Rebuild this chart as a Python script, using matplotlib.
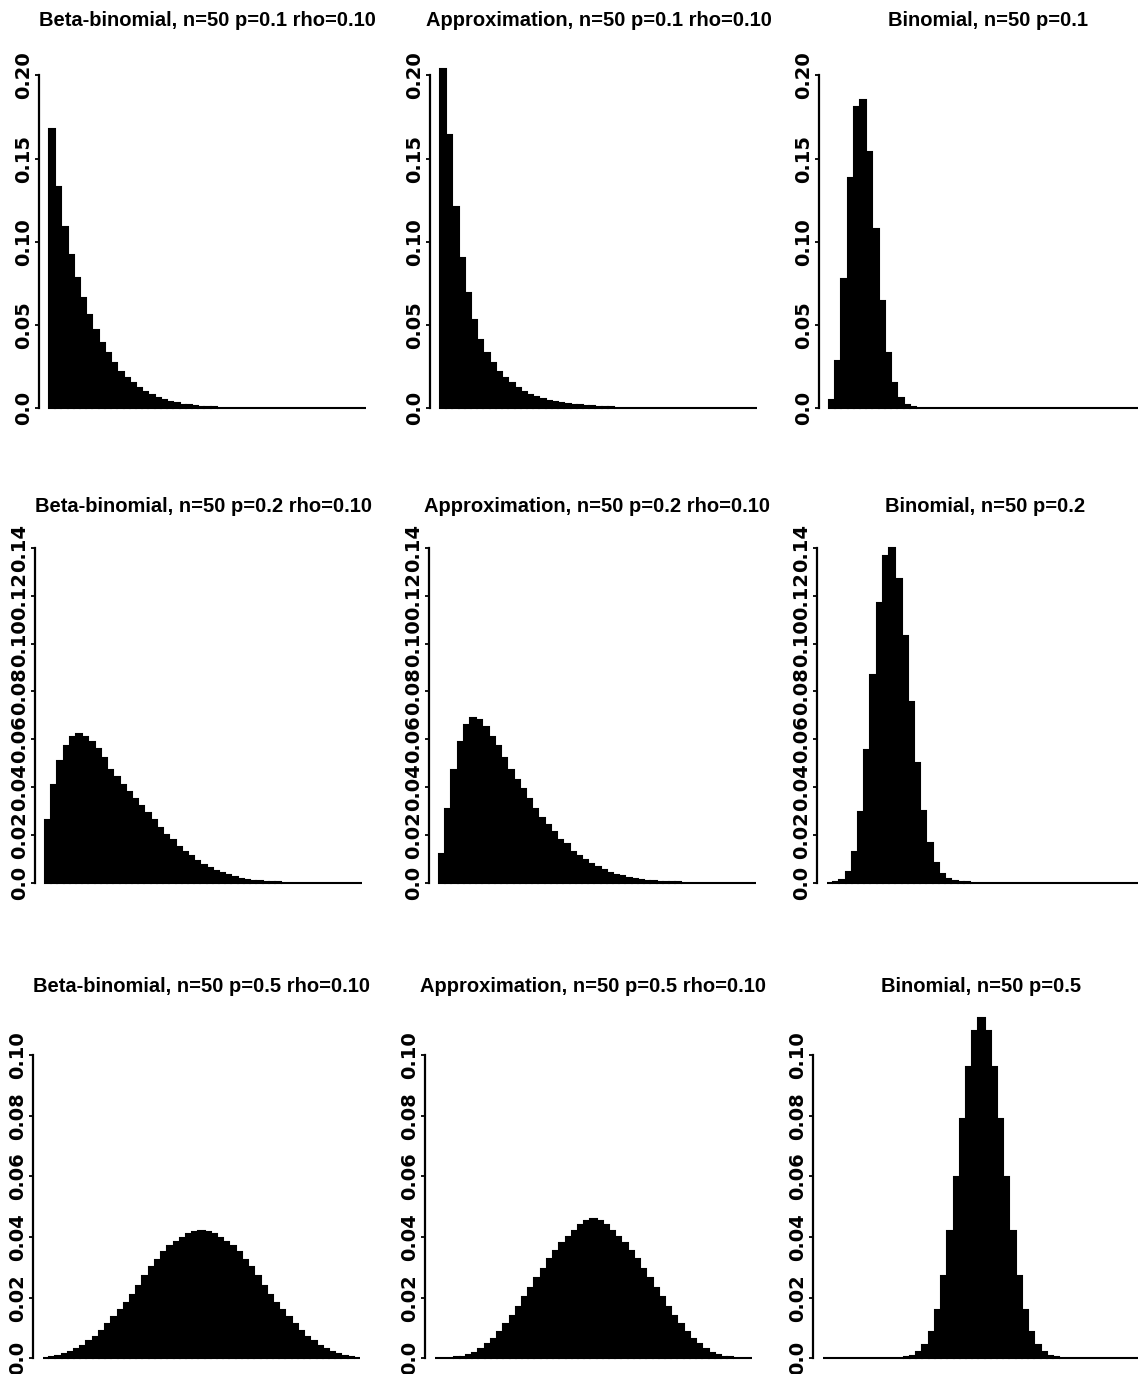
import numpy as np
import matplotlib
matplotlib.use('Agg')
import matplotlib.pyplot as plt
from matplotlib import font_manager

N_TRIALS = 50
K = np.arange(N_TRIALS + 1)

# probabilities, k = 0..50
BETA_BIN_P01 = [0.168, 0.133, 0.109, 0.092, 0.078, 0.066, 0.056, 0.047, 0.039, 0.033,
                0.027, 0.022, 0.018, 0.015, 0.012, 0.0098, 0.0078, 0.0062, 0.0049, 0.0038,
                0.003, 0.0023, 0.0018, 0.0014, 0.001, 0.0008, 0.0006, 0.0004, 0.0003, 0.0002,
                0.00015, 0.0001, 0.00007, 0.00005, 0, 0, 0, 0, 0, 0,
                0, 0, 0, 0, 0, 0, 0, 0, 0, 0, 0]
APPROX_P01 = [0.204, 0.164, 0.121, 0.090, 0.069, 0.053, 0.041, 0.033, 0.027, 0.022,
              0.018, 0.015, 0.012, 0.0098, 0.0082, 0.0068, 0.0056, 0.0047, 0.0039, 0.0032,
              0.0027, 0.0022, 0.0018, 0.0015, 0.0012, 0.001, 0.0008, 0.00065, 0.0005, 0.0004,
              0.0003, 0.00025, 0.0002, 0.00015, 0.0001, 0.00008, 0.00006, 0.00004, 0.00003, 0.00002,
              0.00001, 0, 0, 0, 0, 0, 0, 0, 0, 0, 0]
BINOM_P01 = [0.0052, 0.0286, 0.0779, 0.1386, 0.1809, 0.1849, 0.1541, 0.1076, 0.0643, 0.0333,
             0.0152, 0.0061, 0.0022, 0.0007, 0.0002, 0.00005, 0.00001, 0, 0, 0,
             0, 0, 0, 0, 0, 0, 0, 0, 0, 0,
             0, 0, 0, 0, 0, 0, 0, 0, 0, 0,
             0, 0, 0, 0, 0, 0, 0, 0, 0, 0, 0]

BETA_BIN_P02 = [0.026, 0.041, 0.051, 0.057, 0.061, 0.062, 0.061, 0.059, 0.056, 0.052,
                0.047, 0.044, 0.041, 0.038, 0.035, 0.032, 0.029, 0.026, 0.023, 0.020,
                0.018, 0.015, 0.013, 0.011, 0.009, 0.0075, 0.006, 0.005, 0.004, 0.003,
                0.0023, 0.0017, 0.0012, 0.0008, 0.0005, 0.0003, 0.0002, 0.0001, 0.00005, 0.00002,
                0, 0, 0, 0, 0, 0, 0, 0, 0, 0, 0]
APPROX_P02 = [0.012, 0.031, 0.047, 0.059, 0.066, 0.069, 0.068, 0.065, 0.061, 0.057,
              0.052, 0.047, 0.043, 0.039, 0.035, 0.031, 0.027, 0.024, 0.021, 0.018,
              0.016, 0.013, 0.011, 0.0095, 0.008, 0.0065, 0.0052, 0.0042, 0.0033, 0.0026,
              0.002, 0.0015, 0.0011, 0.0008, 0.0006, 0.0004, 0.0003, 0.0002, 0.0001, 0.00005,
              0, 0, 0, 0, 0, 0, 0, 0, 0, 0, 0]
BINOM_P02 = [0.00001, 0.0002, 0.0011, 0.0044, 0.0128, 0.0295, 0.0554, 0.0870, 0.1169, 0.1364,
             0.1398, 0.1271, 0.1033, 0.0755, 0.0499, 0.0299, 0.0164, 0.0082, 0.0037, 0.0016,
             0.0006, 0.0002, 0.00007, 0.00002, 0, 0, 0, 0, 0, 0,
             0, 0, 0, 0, 0, 0, 0, 0, 0, 0,
             0, 0, 0, 0, 0, 0, 0, 0, 0, 0, 0]

BETA_BIN_P05 = [0.0001, 0.0003, 0.0007, 0.0013, 0.0021, 0.0030, 0.0042, 0.0056, 0.0071, 0.0090,
                0.0112, 0.0137, 0.0158, 0.0183, 0.021, 0.024, 0.027, 0.030, 0.0325, 0.035,
                0.037, 0.0385, 0.0398, 0.041, 0.0417, 0.042, 0.0417, 0.041, 0.0398, 0.0385,
                0.037, 0.035, 0.0325, 0.030, 0.027, 0.024, 0.021, 0.0183, 0.0158, 0.0137,
                0.0112, 0.0090, 0.0071, 0.0056, 0.0042, 0.0030, 0.0021, 0.0013, 0.0007, 0.0003, 0.0001]
APPROX_P05 = [0, 0.00005, 0.0001, 0.0003, 0.0006, 0.0011, 0.0019, 0.0031, 0.0046, 0.0065,
              0.0087, 0.0112, 0.0140, 0.0170, 0.0201, 0.0233, 0.0265, 0.0296, 0.0326, 0.0354,
              0.0379, 0.0401, 0.0420, 0.0438, 0.0452, 0.0458, 0.0452, 0.0438, 0.0420, 0.0401,
              0.0379, 0.0354, 0.0326, 0.0296, 0.0265, 0.0233, 0.0201, 0.0170, 0.0140, 0.0112,
              0.0087, 0.0065, 0.0046, 0.0031, 0.0019, 0.0011, 0.0006, 0.0003, 0.0001, 0.00005, 0]
BINOM_P05 = [0, 0, 0, 0, 0, 0, 0, 0, 0, 0,
             0.00001, 0.00004, 0.0001, 0.0003, 0.0008, 0.0020, 0.0044, 0.0087, 0.0160, 0.0270,
             0.0419, 0.0598, 0.0788, 0.0960, 0.1080, 0.1123, 0.1080, 0.0960, 0.0788, 0.0598,
             0.0419, 0.0270, 0.0160, 0.0087, 0.0044, 0.0020, 0.0008, 0.0003, 0.0001, 0.00004,
             0.00001, 0, 0, 0, 0, 0, 0, 0, 0, 0, 0]

DATA = [[BETA_BIN_P01, APPROX_P01, BINOM_P01],
        [BETA_BIN_P02, APPROX_P02, BINOM_P02],
        [BETA_BIN_P05, APPROX_P05, BINOM_P05]]

TITLES = [['Beta-binomial, n=50 p=0.1 rho=0.10', 'Approximation, n=50 p=0.1 rho=0.10', 'Binomial, n=50 p=0.1'],
          ['Beta-binomial, n=50 p=0.2 rho=0.10', 'Approximation, n=50 p=0.2 rho=0.10', 'Binomial, n=50 p=0.2'],
          ['Beta-binomial, n=50 p=0.5 rho=0.10', 'Approximation, n=50 p=0.5 rho=0.10', 'Binomial, n=50 p=0.5']]

Y_TICKS = [[0, 0.05, 0.10, 0.15, 0.20],
           [0, 0.02, 0.04, 0.06, 0.08, 0.10, 0.12, 0.14],
           [0, 0.02, 0.04, 0.06, 0.08, 0.10]]
Y_TICK_LABELS = [['0.0', '0.05', '0.10', '0.15', '0.20'],
                 ['0.0', '0.02', '0.04', '0.06', '0.08', '0.10', '0.12', '0.14'],
                 ['0.0', '0.02', '0.04', '0.06', '0.08', '0.10']]

FONT_NAMES = {f.name for f in font_manager.fontManager.ttflist}
if 'Liberation Sans Narrow' in FONT_NAMES:
    TITLE_FONT, TITLE_SIZE = 'Liberation Sans Narrow', 15.5
elif 'Liberation Sans' in FONT_NAMES:
    TITLE_FONT, TITLE_SIZE = 'Liberation Sans', 14.5
else:
    TITLE_FONT, TITLE_SIZE = 'DejaVu Sans', 12

W, H = 1138, 1374
fig = plt.figure(figsize=(W / 100, H / 100), dpi=100)

# layout in pixels (from top-left of the picture)
COL_LEFT = [[39, 430, 819], [35, 429, 817], [33, 425, 813]]
ROW_TOP = [55, 535, 1004]
ROW_BOTTOM = [422, 896, 1372]
TITLE_Y = [21, 506, 987]
PANEL_W = 337

for r, row in enumerate(DATA):
    ymax = max(max(v) for v in row)
    for c, values in enumerate(row):
        left = COL_LEFT[r][c]
        ax = fig.add_axes([left / W, 1 - ROW_BOTTOM[r] / H,
                           PANEL_W / W, (ROW_BOTTOM[r] - ROW_TOP[r]) / H])
        ax.bar(K, values, width=1, align='edge', color='black',
               edgecolor='black', linewidth=1.5)
        ax.set_xlim(-1.6, N_TRIALS + 2.6)
        ax.set_ylim(-0.04 * ymax, 1.04 * ymax)
        ax.set_xticks([])
        ax.set_yticks(Y_TICKS[r])
        ax.set_yticklabels(Y_TICK_LABELS[r], rotation=90, va='center',
                           fontsize=14, fontweight='bold')
        ax.tick_params(axis='y', length=3, width=1.3, pad=1.5)
        for side in ['top', 'right', 'bottom']:
            ax.spines[side].set_visible(False)
        ax.spines['left'].set_bounds(0, Y_TICKS[r][-1])
        ax.spines['left'].set_linewidth(1.6)
        ax.patch.set_alpha(0)

        fig.text((left + PANEL_W / 2) / W, 1 - TITLE_Y[r] / H, TITLES[r][c],
                 ha='center', va='center', fontsize=TITLE_SIZE,
                 fontweight='bold', family=TITLE_FONT)

fig.savefig('out.png', dpi=100)
